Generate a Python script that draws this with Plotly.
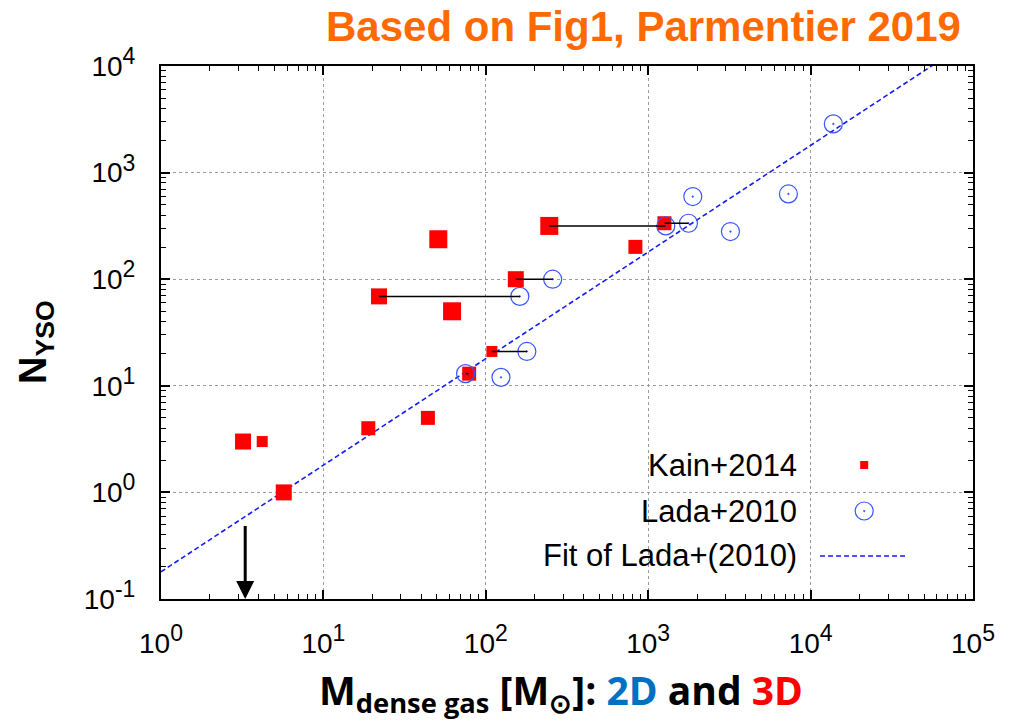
import numpy as np
import plotly.graph_objects as go

# Kain+2014 (3D) clumps: dense-gas mass [Msun], number of YSOs, marker class
kain_mass = [3.2, 4.2, 5.7, 18.9, 44, 79, 109, 22, 62, 153, 51, 246, 834, 1259]
kain_nyso = [3.0, 3.0, 1.0, 4.0, 5.0, 13, 21, 69, 50, 100, 237, 316, 201, 335]
kain_class = ["l", "s", "l", "m", "m", "m", "s", "l", "xl", "l", "xl", "xl", "m", "m"]

# Lada+2010 (2D) clouds
lada_mass = [75, 124, 179, 162, 258, 1283, 1770, 1882, 3209, 7300, 13800]
lada_nyso = [13, 12, 21, 69, 100, 316, 335, 596, 280, 631, 2864]

# Same cloud measured in 3D (Kain) and 2D (Lada): (kain index, lada index)
pairs = [(5, 0), (6, 2), (7, 3), (9, 4), (11, 5), (13, 6)]

# Linear fit of Lada+2010: N_YSO = fit_coeff * M_dense
fit_coeff = 0.18
fit_mass = [1, 1e5]

# Upper limit drawn as a downward arrow
arrow_mass = 3.3
arrow_top = 0.5

x_decades = [0, 1, 2, 3, 4, 5]
y_decades = [-1, 0, 1, 2, 3, 4]

legend_labels = ["Kain+2014", "Lada+2010", "Fit of Lada+(2010)"]

# ---------------------------------------------------------------- styling
class_px = {"xl": 18, "l": 16, "m": 14, "s": 11}
red = "#ff0000"
circ_blue = "rgb(55,85,255)"
fit_blue = "rgb(20,30,245)"
tick_font = dict(family="Liberation Sans, Arial, sans-serif", size=28, color="black")

fig = go.Figure()

fig.add_trace(go.Scatter(
    x=fit_mass, y=[fit_coeff * m for m in fit_mass], mode="lines",
    line=dict(color=fit_blue, width=1.6, dash="5px,3px"), showlegend=False,
    hoverinfo="skip"))

fig.add_trace(go.Scatter(
    x=kain_mass, y=kain_nyso, mode="markers", showlegend=False,
    marker=dict(symbol="square", color=red, opacity=1,
                size=[class_px[c] for c in kain_class],
                line=dict(width=0))))

fig.add_trace(go.Scatter(
    x=lada_mass, y=lada_nyso, mode="markers", showlegend=False,
    marker=dict(symbol="circle-open-dot", color=circ_blue, size=18, opacity=1,
                line=dict(width=1.2, color=circ_blue))))

link_x, link_y = [], []
for k, l in pairs:
    link_x += [kain_mass[k], lada_mass[l], None]
    link_y += [kain_nyso[k], kain_nyso[k], None]
fig.add_trace(go.Scatter(
    x=link_x, y=link_y, mode="lines", showlegend=False,
    line=dict(color="black", width=1.5)))

# legend keys on an invisible overlay subplot (unit coordinates)
key_x = 0.866
row_y = [0.2514, 0.1651, 0.0807]
fig.add_trace(go.Scatter(
    x=[key_x], y=[row_y[0]], xaxis="x2", yaxis="y2", mode="markers",
    marker=dict(symbol="square", color=red, size=8, opacity=1, line=dict(width=0)),
    showlegend=False, hoverinfo="skip"))
fig.add_trace(go.Scatter(
    x=[key_x], y=[row_y[1]], xaxis="x2", yaxis="y2", mode="markers",
    marker=dict(symbol="circle-open-dot", color=circ_blue, size=18, opacity=1,
                line=dict(width=1.2, color=circ_blue)),
    showlegend=False, hoverinfo="skip"))
fig.add_trace(go.Scatter(
    x=[0.8116, 0.92], y=[row_y[2], row_y[2]], xaxis="x2", yaxis="y2", mode="lines",
    line=dict(color=fit_blue, width=1.6, dash="5px,3px"),
    showlegend=False, hoverinfo="skip"))


def log_axis(decades):
    minor_vals = [m * 10.0 ** d for d in decades[:-1] for m in range(2, 10)]
    return dict(
        type="log", range=[decades[0], decades[-1]],
        tickmode="array", tickvals=[10.0 ** d for d in decades],
        ticktext=["10<sup><span style='font-size:23px'>%d</span></sup>" % d
                  for d in decades],
        showline=True, linecolor="black", linewidth=2, mirror="ticks",
        ticks="inside", ticklen=9, tickwidth=1.5, tickcolor="black",
        showgrid=True, gridcolor="#9a9a9a", griddash="dot", gridwidth=1,
        zeroline=False, tickfont=tick_font,
        minor=dict(tickmode="array", tickvals=minor_vals, ticks="inside",
                   ticklen=5, tickwidth=1.2, tickcolor="black", showgrid=False),
    )


xa = log_axis(x_decades)
xa["ticklabelstandoff"] = 18
ya = log_axis(y_decades)
ya["ticklabelstandoff"] = 18

annotations = [
    dict(text="Based on Fig1, Parmentier 2019", xref="paper", yref="paper",
         x=0.594, y=1.075, xanchor="center", yanchor="middle", showarrow=False,
         font=dict(family="Liberation Sans, Arial, sans-serif", size=42,
                   color="#ff6a00", weight="bold")),
    dict(text="N<sub>YSO</sub>", xref="paper", yref="paper", x=-0.154, y=0.482,
         xanchor="center", yanchor="middle", textangle=-90, showarrow=False,
         font=dict(family="Liberation Sans, Arial, sans-serif", size=38,
                   color="black", weight="bold")),
    dict(text=("M<sub>dense gas</sub> [M<sub>\u2299</sub>]: "
               "<span style='color:#0070c0'>2D</span> and "
               "<span style='color:#ff0000'>3D</span>"),
         xref="paper", yref="paper", x=0.493, y=-0.174,
         xanchor="center", yanchor="middle", showarrow=False,
         font=dict(family="Open Sans, sans-serif", size=39, color="black",
                   weight="bold")),
    dict(x=np.log10(arrow_mass), y=y_decades[0], ax=np.log10(arrow_mass),
         ay=np.log10(arrow_top), xref="x", yref="y", axref="x", ayref="y",
         text="", showarrow=True, arrowhead=2, arrowsize=1.2, arrowwidth=3,
         arrowcolor="black", standoff=0),
]
for lab, yy in zip(legend_labels, row_y):
    annotations.append(dict(
        text=lab, xref="paper", yref="paper", x=0.7857, y=yy,
        xanchor="right", yanchor="middle", showarrow=False,
        font=dict(family="Liberation Sans, Arial, sans-serif", size=31,
                  color="black")))

fig.update_layout(
    width=1017, height=721,
    margin=dict(l=161, r=44, t=66, b=122),
    paper_bgcolor="white", plot_bgcolor="white",
    xaxis=xa, yaxis=ya,
    xaxis2=dict(overlaying="x", range=[0, 1], visible=False),
    yaxis2=dict(overlaying="y", range=[0, 1], visible=False),
    annotations=annotations,
    shapes=[dict(type="rect", xref="paper", yref="paper",
                 x0=0.358, x1=0.942, y0=0.043, y1=0.295,
                 fillcolor="white", line=dict(width=0), layer="between")],
    showlegend=False,
)

fig.write_html("out.html")
